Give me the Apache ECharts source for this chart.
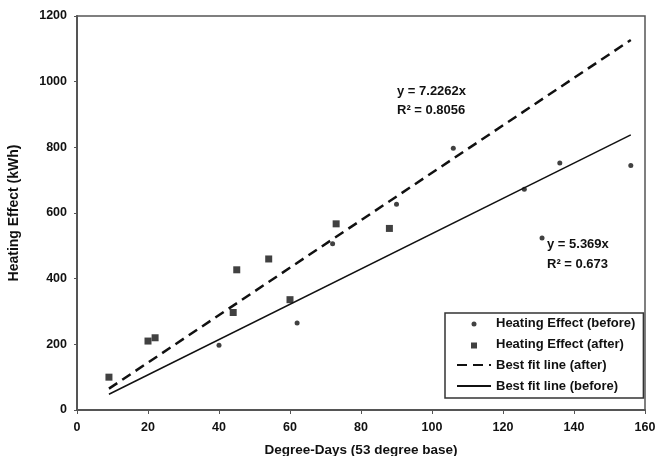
<!DOCTYPE html>
<html>
<head>
<meta charset="utf-8">
<script src="https://cdn.jsdelivr.net/npm/echarts@6/dist/echarts.min.js"></script>
<style>
  html, body { margin: 0; padding: 0; background: #fff; }
  #chart { width: 660px; height: 456px; }
</style>
</head>
<body>
<div id="chart"></div>
<script>
// degree-days / kWh pairs
const beforePoints = [[40, 197], [62, 265], [72, 506], [90, 627], [106, 797], [126, 672], [131, 524], [136, 752], [156, 745]];
const afterPoints = [[9, 100], [20, 210], [22, 220], [44, 297], [45, 427], [54, 460], [60, 336], [73, 567], [88, 553]];
// trend line end points (y = 7.2262x and y = 5.369x)
const afterFit = [[9, 65], [156, 1127]];
const beforeFit = [[9, 48], [156, 838]];
const xTicks = [0, 20, 40, 60, 80, 100, 120, 140, 160];
const yTicks = [0, 200, 400, 600, 800, 1000, 1200];

const font = '"Liberation Sans", Arial, sans-serif';
const ink = '#111';

const myChart = echarts.init(document.getElementById('chart'));

const option = {
  backgroundColor: '#fff',
  animation: false,
  textStyle: { fontFamily: font },
  grid: {
    left: 77,
    right: 15,
    top: 16,
    bottom: 46,
    outerBoundsMode: 'none',
    containLabel: false,
    show: true,
    borderColor: '#555',
    borderWidth: 1.5
  },
  xAxis: {
    type: 'value',
    min: xTicks[0],
    max: xTicks[xTicks.length - 1],
    interval: 20,
    name: 'Degree-Days (53 degree base)',
    nameLocation: 'middle',
    nameGap: 33,
    nameTextStyle: { color: ink, fontSize: 13.5, fontWeight: 'bold', fontFamily: font },
    splitLine: { show: false },
    axisLine: { lineStyle: { color: '#555', width: 2 } },
    axisTick: { length: 4, lineStyle: { color: '#555' } },
    axisLabel: { color: ink, fontSize: 12.5, fontWeight: 'bold', margin: 11 }
  },
  yAxis: {
    type: 'value',
    min: yTicks[0],
    max: yTicks[yTicks.length - 1],
    interval: 200,
    name: 'Heating Effect (kWh)',
    nameLocation: 'middle',
    nameGap: 56,
    nameTextStyle: { color: ink, fontSize: 14, fontWeight: 'bold', fontFamily: font },
    splitLine: { show: false },
    axisLine: { lineStyle: { color: '#555', width: 2 } },
    axisTick: { length: 3, lineStyle: { color: '#555' } },
    axisLabel: { color: ink, fontSize: 12.5, fontWeight: 'bold', margin: 10, formatter: v => String(v) }
  },
  legend: {
    orient: 'vertical',
    left: 445,
    top: 313,
    padding: [3, 8, 5, 11],
    itemWidth: 34,
    itemHeight: 14,
    itemGap: 7,
    borderColor: '#333',
    borderWidth: 1.5,
    backgroundColor: '#fff',
    textStyle: { color: ink, fontSize: 13, fontWeight: 'bold', lineHeight: 14, fontFamily: font },
    data: [
      { name: 'Heating Effect (before)', icon: 'path://M0,0M34,14M19.5,8A2.5,2.5,0,1,1,14.5,8A2.5,2.5,0,1,1,19.5,8Z' },
      { name: 'Heating Effect (after)', icon: 'path://M0,0M34,14M14,5.5h6v6h-6z' },
      { name: 'Best fit line (after)', itemStyle: { opacity: 0 } },
      { name: 'Best fit line (before)', itemStyle: { opacity: 0 } }
    ]
  },
  graphic: [
    { type: 'text', left: 397, top: 85, style: { text: 'y = 7.2262x', fill: ink, font: 'bold 13px ' + font } },
    { type: 'text', left: 397, top: 104, style: { text: 'R² = 0.8056', fill: ink, font: 'bold 13px ' + font } },
    { type: 'text', left: 547, top: 238, style: { text: 'y = 5.369x', fill: ink, font: 'bold 13px ' + font } },
    { type: 'text', left: 547, top: 258, style: { text: 'R² = 0.673', fill: ink, font: 'bold 13px ' + font } }
  ],
  series: [
    {
      name: 'Best fit line (after)',
      type: 'line',
      data: afterFit,
      symbol: 'none',
      lineStyle: { color: ink, width: 2.5, type: [10, 6] },
      itemStyle: { color: ink },
      z: 2
    },
    {
      name: 'Best fit line (before)',
      type: 'line',
      data: beforeFit,
      symbol: 'none',
      lineStyle: { color: ink, width: 1.5, type: 'solid' },
      itemStyle: { color: ink },
      z: 2
    },
    {
      name: 'Heating Effect (before)',
      type: 'scatter',
      data: beforePoints,
      symbol: 'circle',
      symbolSize: 5,
      itemStyle: { color: ink },
      z: 3
    },
    {
      name: 'Heating Effect (after)',
      type: 'scatter',
      data: afterPoints,
      symbol: 'rect',
      symbolSize: 7,
      itemStyle: { color: ink },
      z: 3
    }
  ]
};

myChart.setOption(option);
</script>
</body>
</html>
